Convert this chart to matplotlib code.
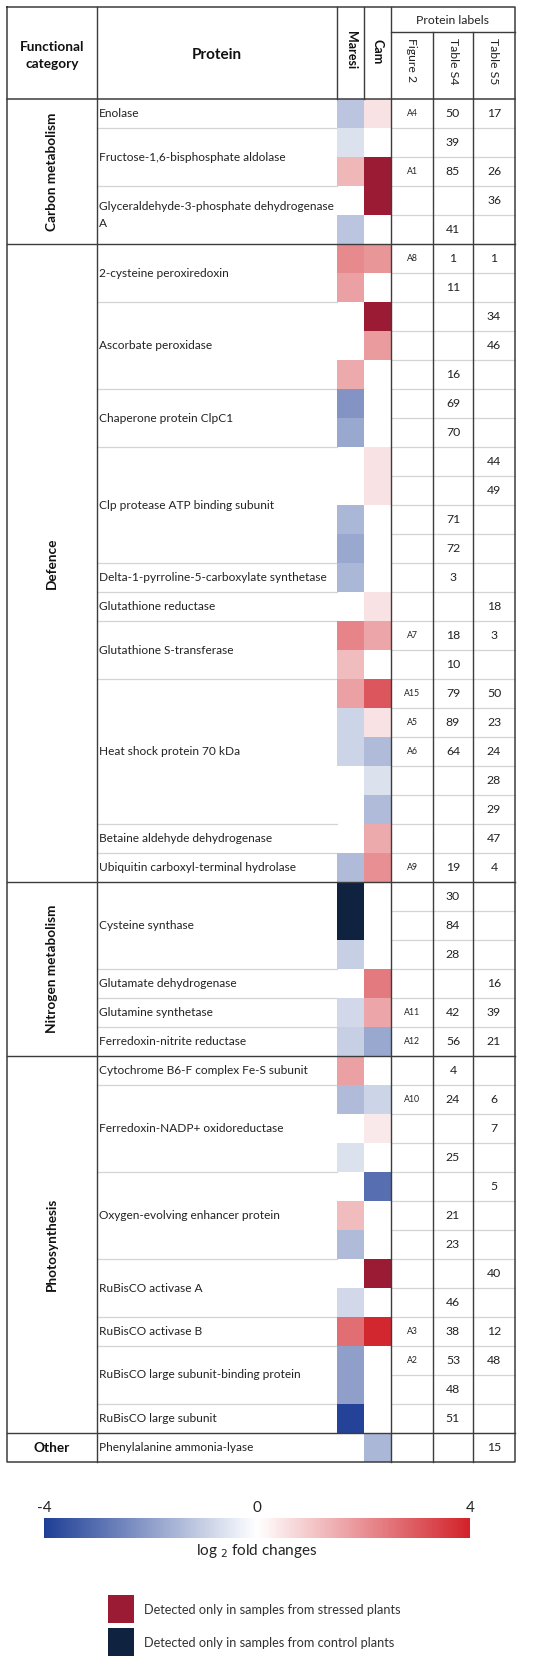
import numpy as np
import matplotlib
matplotlib.use("Agg")
import matplotlib.pyplot as plt
from matplotlib.colors import LinearSegmentedColormap, ListedColormap, Normalize
from matplotlib.patches import Rectangle
import matplotlib.cm as cm

plt.rcParams['font.family'] = ['Lato', 'DejaVu Sans']
plt.rcParams['axes.unicode_minus'] = False

# functional categories and how many table rows each spans
categories = ['Carbon metabolism', 'Defence', 'Nitrogen metabolism', 'Photosynthesis', 'Other']
category_rows = [5, 22, 6, 13, 1]

# protein names and number of spots (rows) per protein
proteins = ['Enolase', 'Fructose-1,6-bisphosphate aldolase',
            'Glyceraldehyde-3-phosphate dehydrogenase\nA',
            '2-cysteine peroxiredoxin', 'Ascorbate peroxidase', 'Chaperone protein ClpC1',
            'Clp protease ATP binding subunit', 'Delta-1-pyrroline-5-carboxylate synthetase',
            'Glutathione reductase', 'Glutathione S-transferase', 'Heat shock protein 70 kDa',
            'Betaine aldehyde dehydrogenase', 'Ubiquitin carboxyl-terminal hydrolase',
            'Cysteine synthase', 'Glutamate dehydrogenase', 'Glutamine synthetase',
            'Ferredoxin-nitrite reductase',
            'Cytochrome B6-F complex Fe-S subunit', 'Ferredoxin-NADP+ oxidoreductase',
            'Oxygen-evolving enhancer protein', 'RuBisCO activase A', 'RuBisCO activase B',
            'RuBisCO large subunit-binding protein', 'RuBisCO large subunit',
            'Phenylalanine ammonia-lyase']
protein_rows = [1, 2, 2, 2, 3, 2, 4, 1, 1, 2, 5, 1, 1, 3, 1, 1, 1, 1, 3, 3, 2, 1, 2, 1, 1]

# log2 fold changes; None = not changed, 'S' = only in stressed, 'C' = only in control
maresi = [-1.2, -0.6, 1.3, None, -1.2,
          2.1, 1.7, None, None, 1.5, -2.2, -1.8, None, None, -1.5, -1.8, -1.5, None,
          2.2, 1.2, 1.7, -0.9, -0.9, None, None, None, -1.4,
          'C', 'C', -1.0, None, -0.8, -1.0,
          1.7, -1.4, None, -0.6, None, 1.2, -1.4, None, -0.8, 2.6, -2.0, -2.0, -3.9,
          None]
cam = [0.5, None, 'S', 'S', None,
       1.9, None, 'S', 1.8, None, None, None, 0.5, 0.5, None, None, None, 0.5,
       1.6, None, 3.0, 0.5, -1.4, -0.6, -1.4, 1.5, 2.0,
       None, None, None, 2.4, 1.6, -1.8,
       None, -0.9, 0.4, None, -3.0, None, None, 'S', None, 3.9, None, None, None,
       -1.5]

fig2 = ['A4', '', 'A1', '', '',
        'A8', '', '', '', '', '', '', '', '', '', '', '', '',
        'A7', '', 'A15', 'A5', 'A6', '', '', '', 'A9',
        '', '', '', '', 'A11', 'A12',
        '', 'A10', '', '', '', '', '', '', '', 'A3', 'A2', '', '',
        '']
table_s4 = ['50', '39', '85', '', '41',
            '1', '11', '', '', '16', '69', '70', '', '', '71', '72', '3', '',
            '18', '10', '79', '89', '64', '', '', '', '19',
            '30', '84', '28', '', '42', '56',
            '4', '24', '', '25', '', '21', '23', '', '46', '38', '53', '48', '51',
            '']
table_s5 = ['17', '', '26', '36', '',
            '1', '', '34', '46', '', '', '', '44', '49', '', '', '', '18',
            '3', '', '50', '23', '24', '28', '29', '47', '4',
            '', '', '', '16', '39', '21',
            '', '6', '7', '', '5', '', '', '40', '', '12', '48', '', '',
            '15']

# layout (pixels)
W, H = 560, 1666
XL, XC, XM, XMC, XF, XS4, XS5, XR = 7, 97, 337, 364, 391, 433, 473, 515
YT, YPL, Y0, RH = 7, 32, 99, 29.0
n = len(maresi)
YB = Y0 + n * RH
dark = '#3c3c3c'
light = '#d4d4d4'

fig = plt.figure(figsize=(5.6, 16.66), dpi=100)
ax = fig.add_axes([0, 0, 1, 1])
ax.axis('off')

cmap = LinearSegmentedColormap.from_list('fc', [(0, '#1f3f96'), (0.5, '#ffffff'), (1, '#d2222a')])
norm = Normalize(-4, 4)

def num(v):
    return float(v) if isinstance(v, (int, float)) else np.nan

def only(v):
    return {'S': 1.0, 'C': 0.0}.get(v, np.nan) if isinstance(v, str) else np.nan

fold = np.column_stack([[num(v) for v in maresi], [num(v) for v in cam]])
excl = np.column_stack([[only(v) for v in maresi], [only(v) for v in cam]])
ax.imshow(np.ma.masked_invalid(fold), cmap=cmap, norm=norm, aspect='auto',
          interpolation='nearest', extent=[XM, XF, YB, Y0], zorder=2)
ax.imshow(np.ma.masked_invalid(excl), cmap=ListedColormap(['#0f2340', '#9b1b35']),
          vmin=0, vmax=1, aspect='auto', interpolation='nearest',
          extent=[XM, XF, YB, Y0], zorder=2)

# light row lines in label columns
for i in range(1, n):
    y = Y0 + i * RH
    ax.plot([XF, XR], [y, y], color=light, lw=0.9, zorder=1)

# protein names and light group lines
sec_bounds = np.cumsum(category_rows)
start = 0
for name, k in zip(proteins, protein_rows):
    yc = Y0 + (start + k / 2) * RH
    ax.text(XC + 2, yc, name, ha='left', va='center', fontsize=8.6, color='#222222',
            linespacing=1.6, zorder=4)
    start += k
    if start not in sec_bounds:
        y = Y0 + start * RH
        ax.plot([XC, XM], [y, y], color=light, lw=0.9, zorder=1)

# label columns
for col, xs, fs in [(fig2, (XF + XS4) / 2, 6.3), (table_s4, (XS4 + XS5) / 2, 8.8),
                    (table_s5, (XS5 + XR) / 2, 8.8)]:
    for i, t in enumerate(col):
        if t:
            ax.text(xs, Y0 + (i + 0.5) * RH, t, ha='center', va='center', fontsize=fs,
                    color='#222222', zorder=4)

# categories
start = 0
for cat, k in zip(categories, category_rows):
    yc = Y0 + (start + k / 2) * RH
    rot = 90 if k > 1 else 0
    ax.text((XL + XC) / 2, yc, cat, ha='center', va='center', rotation=rot,
            fontsize=9.8, fontweight='bold', color='#111111', zorder=4)
    start += k
    if start < n:
        y = Y0 + start * RH
        ax.plot([XL, XR], [y, y], color=dark, lw=1.0, zorder=3)

# frame lines
ax.plot([XL, XR, XR, XL, XL], [YT, YT, YB, YB, YT], color=dark, lw=1.1, zorder=3)
ax.plot([XL, XR], [Y0, Y0], color=dark, lw=1.1, zorder=3)
ax.plot([XF, XR], [YPL, YPL], color=dark, lw=1.0, zorder=3)
for x in [XC, XF, XS4, XS5]:
    ax.plot([x, x], [YPL if x in (XS4, XS5) else YT, YB], color=dark, lw=1.0, zorder=3)
for x in [XM, XMC]:
    ax.plot([x, x], [YT, Y0], color=dark, lw=1.0, zorder=3)

# header
ax.text((XL + XC) / 2, 55, 'Functional\ncategory', ha='center', va='center', fontsize=9.8,
        fontweight='bold', linespacing=1.5, color='#111111')
ax.text((XC + XM) / 2, 55, 'Protein', ha='center', va='center', fontsize=11,
        fontweight='bold', color='#111111')
ax.text((XM + XMC) / 2, 31, 'Maresi', ha='center', va='top', rotation=270, fontsize=9,
        fontweight='bold', color='#111111')
ax.text((XMC + XF) / 2, 39, 'Cam', ha='center', va='top', rotation=270, fontsize=9,
        fontweight='bold', color='#111111')
ax.text((XF + XR) / 2, 20, 'Protein labels', ha='center', va='center', fontsize=8.8,
        color='#222222')
for x, t in [((XF + XS4) / 2, 'Figure 2'), ((XS4 + XS5) / 2, 'Table S4'),
             ((XS5 + XR) / 2, 'Table S5')]:
    ax.text(x, 38, t, ha='center', va='top', rotation=270, fontsize=8.8, color='#222222')

# legend swatches
for y, c, t in [(1595, '#9b1b35', 'Detected only in samples from stressed plants'),
                (1628, '#0f2340', 'Detected only in samples from control plants')]:
    ax.add_patch(Rectangle((108, y), 26, 28, facecolor=c, edgecolor='none'))
    ax.text(144, y + 15, t, ha='left', va='center', fontsize=9.2, color='#333333')

ax.set_xlim(0, W)
ax.set_ylim(H, 0)

# colorbar
cax = fig.add_axes([44 / W, 1 - 1538 / H, 426 / W, 20 / H])
cb = fig.colorbar(cm.ScalarMappable(norm=norm, cmap=cmap), cax=cax, orientation='horizontal')
cb.outline.set_visible(False)
cb.set_ticks([-4, 0, 4])
cax.xaxis.set_ticks_position('top')
cax.tick_params(length=0, labelsize=11, pad=2, colors='#222222')
cax.set_xlabel('log $_2$ fold changes', fontsize=11, color='#222222', labelpad=3)
cax.xaxis.set_label_position('bottom')

fig.savefig('out.png', dpi=100)
